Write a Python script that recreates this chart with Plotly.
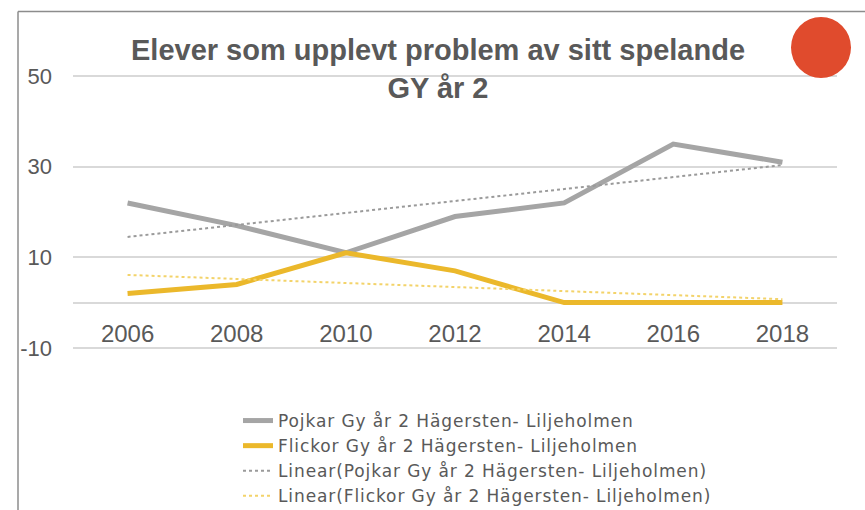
import numpy as np
import plotly.graph_objects as go

# ---- data ----
years = ["2006", "2008", "2010", "2012", "2014", "2016", "2018"]
pojkar = [22, 17, 11, 19, 22, 35, 31]
flickor = [2, 4, 11, 7, 0, 0, 0]
y_ticks = [-10, 10, 30, 50]
y_ticktext = [str(v) for v in y_ticks]

name_p = "Pojkar Gy år 2 Hägersten- Liljeholmen"
name_f = "Flickor Gy år 2 Hägersten- Liljeholmen"

# Excel-style linear trendlines (least squares on category index)
idx = np.arange(1, len(years) + 1)
cp = np.polyfit(idx, pojkar, 1)
cf = np.polyfit(idx, flickor, 1)
trend_p = np.polyval(cp, idx)
trend_f = np.polyval(cf, idx)

GRAY = "#A5A5A5"
GOLD = "#EBB82B"
GOLD_LIGHT = "#F3D36A"
TXT = "#595959"
GRID = "#D9D9D9"

W, H = 865, 510
L, R, T, B = 73, 837, 75, 349  # plot area pixels
pw, ph = R - L, B - T
YMIN, YMAX = -10.25, 50.25


def px(x):
    return (x - L) / pw


def py(y):
    return (B - y) / ph


def lg(s):
    return "<span style='letter-spacing:0.9px'>" + s + "</span>"


fig = go.Figure()
fig.add_trace(go.Scatter(x=years, y=pojkar, mode="lines", name=lg(name_p),
                         line=dict(color=GRAY, width=5)))
fig.add_trace(go.Scatter(x=years, y=flickor, mode="lines", name=lg(name_f),
                         line=dict(color=GOLD, width=5)))
fig.add_trace(go.Scatter(x=years, y=trend_p, mode="lines",
                         name=lg("Linear(" + name_p + ")"),
                         line=dict(color="#9A9A9A", width=2, dash="dot")))
fig.add_trace(go.Scatter(x=years, y=trend_f, mode="lines",
                         name=lg("Linear(" + name_f + ")"),
                         line=dict(color=GOLD_LIGHT, width=2, dash="dot")))

fig.update_layout(
    width=W, height=H,
    margin=dict(l=L, r=W - R, t=T, b=H - B, pad=0, autoexpand=False),
    paper_bgcolor="white", plot_bgcolor="white",
    font=dict(family="Liberation Sans, Arial, sans-serif", color=TXT),
    title=dict(
        text="<b>Elever som upplevt problem av sitt spelande<br>GY år 2</b>",
        x=438 / W, xanchor="center",
        y=1 - 60 / H, yanchor="top", yref="container",
        font=dict(size=29, color=TXT),
    ),
    xaxis=dict(
        type="category", range=[-0.5, 6.5],
        anchor="free", position=(0 - YMIN) / (YMAX - YMIN),
        showgrid=False, showline=False, zeroline=False,
        ticks="", tickfont=dict(size=24, color=TXT),
        ticklabelstandoff=14,
    ),
    yaxis=dict(
        range=[YMIN, YMAX], tickmode="array", tickvals=y_ticks,
        ticktext=y_ticktext,
        showgrid=True, gridcolor=GRID, gridwidth=1.5,
        zeroline=True, zerolinecolor=GRID, zerolinewidth=1.5,
        showline=False, ticks="",
        tickfont=dict(size=22, color=TXT),
        ticklabelstandoff=20,
    ),
    showlegend=True,
    legend=dict(
        x=px(238), xanchor="left",
        y=py(403), yanchor="top",
        font=dict(size=17, color=TXT, family="DejaVu Sans, sans-serif"),
        bgcolor="rgba(0,0,0,0)", tracegroupgap=0,
        itemwidth=30,
    ),
    shapes=[
        dict(type="line", xref="paper", yref="paper",
             x0=px(18), x1=px(865), y0=py(11.5), y1=py(11.5),
             line=dict(color="#8C8C8C", width=1.5)),
        dict(type="line", xref="paper", yref="paper",
             x0=px(18), x1=px(18), y0=py(11.5), y1=py(512),
             line=dict(color="#8C8C8C", width=1.5)),
        dict(type="circle", xref="paper", yref="paper",
             x0=px(791), x1=px(851), y0=py(78), y1=py(17),
             fillcolor="#E04B2D", line=dict(width=0)),
    ],
)

fig.write_html("out.html",
               config={"displayModeBar": False},
               post_script="document.body.style.margin='0';")
